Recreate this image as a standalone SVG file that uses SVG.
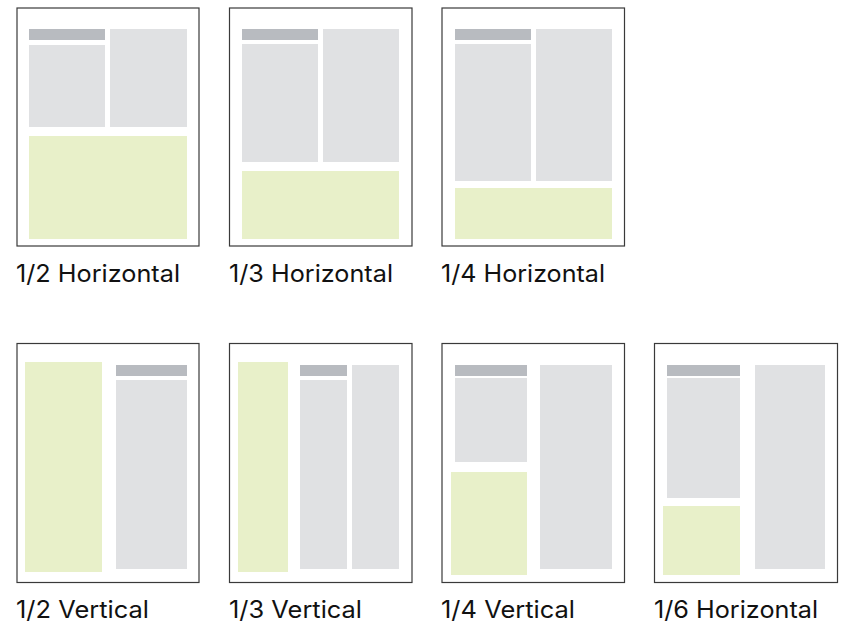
<svg xmlns="http://www.w3.org/2000/svg" width="852" height="627" viewBox="0 0 852 627">
<style>
.frame{fill:#fff;stroke:#3a3a3a;stroke-width:1.2}
.g{fill:#e0e1e3}
.h{fill:#b8bbc0}
.a{fill:#e8f0c9}
.lbl{font-family:Inter,"Liberation Sans",sans-serif;font-size:24px;fill:#111}
</style>
<rect width="852" height="627" fill="#fff"/>
<g id="h12">
<rect class="frame" x="17" y="8" width="182" height="238"/>
<rect class="h" x="29" y="29" width="76" height="11"/>
<rect class="g" x="29" y="45" width="76" height="82"/>
<rect class="g" x="110" y="29" width="77" height="98"/>
<rect class="a" x="29" y="136" width="158" height="103"/>
<text class="lbl" x="16" y="282" textLength="164" lengthAdjust="spacingAndGlyphs">1/2 Horizontal</text>
</g>
<g id="h13">
<rect class="frame" x="229.5" y="8" width="182.5" height="238"/>
<rect class="h" x="242" y="29" width="76" height="11"/>
<rect class="g" x="242" y="44" width="76" height="118"/>
<rect class="g" x="323" y="29" width="76" height="133"/>
<rect class="a" x="242" y="171" width="157" height="68"/>
<text class="lbl" x="229" y="282" textLength="164" lengthAdjust="spacingAndGlyphs">1/3 Horizontal</text>
</g>
<g id="h14">
<rect class="frame" x="442" y="8" width="182.5" height="238"/>
<rect class="h" x="455" y="29" width="76" height="11"/>
<rect class="g" x="455" y="44" width="76" height="137"/>
<rect class="g" x="536" y="29" width="76" height="152"/>
<rect class="a" x="455" y="188" width="157" height="51"/>
<text class="lbl" x="441" y="282" textLength="164" lengthAdjust="spacingAndGlyphs">1/4 Horizontal</text>
</g>
<g id="v12">
<rect class="frame" x="17" y="343.5" width="182" height="239"/>
<rect class="a" x="25" y="362" width="77" height="210"/>
<rect class="h" x="116" y="365" width="71" height="11"/>
<rect class="g" x="116" y="380" width="71" height="189"/>
<text class="lbl" x="16" y="618" textLength="133" lengthAdjust="spacingAndGlyphs">1/2 Vertical</text>
</g>
<g id="v13">
<rect class="frame" x="229.5" y="343.5" width="182.5" height="239"/>
<rect class="a" x="238" y="362" width="50" height="210"/>
<rect class="h" x="300" y="365" width="47" height="11"/>
<rect class="g" x="300" y="380" width="47" height="189"/>
<rect class="g" x="352" y="365" width="47" height="204"/>
<text class="lbl" x="229" y="618" textLength="133" lengthAdjust="spacingAndGlyphs">1/3 Vertical</text>
</g>
<g id="v14">
<rect class="frame" x="442" y="343.5" width="182.5" height="239"/>
<rect class="h" x="455" y="365" width="72" height="11"/>
<rect class="g" x="455" y="378" width="72" height="84"/>
<rect class="a" x="451" y="472" width="76" height="103"/>
<rect class="g" x="540" y="365" width="72" height="204"/>
<text class="lbl" x="441" y="618" textLength="134" lengthAdjust="spacingAndGlyphs">1/4 Vertical</text>
</g>
<g id="h16">
<rect class="frame" x="654.5" y="343.5" width="183" height="239"/>
<rect class="h" x="667" y="365" width="73" height="11"/>
<rect class="g" x="667" y="378" width="73" height="120"/>
<rect class="a" x="663" y="506" width="77" height="69"/>
<rect class="g" x="755" y="365" width="70" height="204"/>
<text class="lbl" x="654" y="618" textLength="164" lengthAdjust="spacingAndGlyphs">1/6 Horizontal</text>
</g>
<g id="connectors"/>
</svg>
